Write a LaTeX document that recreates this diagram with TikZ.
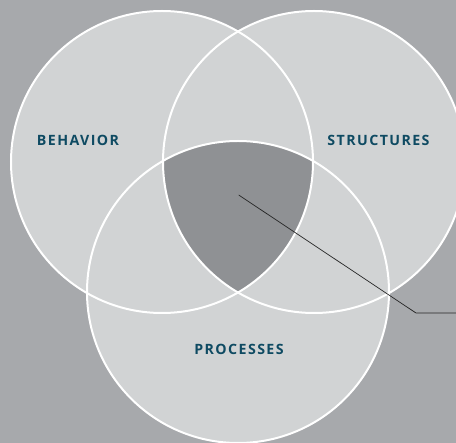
\documentclass[tikz,border=0pt]{standalone}
\usepackage{fontspec}
\setmainfont{Open Sans}
\newfontfamily\labelfont[LetterSpace=10]{Open Sans}
\usepackage{tikz}
\usetikzlibrary{positioning}
\definecolor{backgray}{RGB}{167,169,172}
\definecolor{setgray}{RGB}{209,211,212}
\definecolor{coregray}{RGB}{143,145,148}
\definecolor{labelblue}{RGB}{14,74,98}
\tikzset{
    x=1pt, y=-1pt, % pixel-like units, y going down
    set/.style={fill=setgray}, % fill of each circle
    rim/.style={draw=white, line width=2pt}, % white outline of each circle
    setlabel/.style={text=labelblue, font=\labelfont\bfseries\fontsize{14.2}{16}\selectfont, inner sep=0pt}, % circle names
    pointer/.style={draw=black!85, line width=0.7pt}, % the leader line
}
\begin{document}
\begin{tikzpicture}
            \useasboundingbox (0,0) rectangle (456,443);
            \clip (0,0) rectangle (456,443);
            \fill[backgray] (0,0) rectangle (456,443);

            \coordinate (beh) at (162,162);
            \coordinate (str) at (314,162);
            \coordinate (pro) at (238,292);

            \fill[set] (beh) circle[radius=151pt];
            \fill[set] (str) circle[radius=151pt];
            \fill[set] (pro) circle[radius=151pt];

            % common part of all three
            \begin{scope}
                \clip (beh) circle[radius=151pt];
                \clip (str) circle[radius=151pt];
                \fill[coregray] (pro) circle[radius=151pt];
            \end{scope}

            \draw[rim] (beh) circle[radius=151pt];
            \draw[rim] (str) circle[radius=151pt];
            \draw[rim] (pro) circle[radius=151pt];

            \node[setlabel] (lbeh) at (78,140.5) {BEHAVIOR};
            \node[setlabel] (lstr) at (378.5,140.5) {STRUCTURES};
            \node[setlabel] (lpro) at (239,349.3) {PROCESSES};

            \coordinate (core) at (238.7,195);
            \coordinate (bend) at (416,313);
            \coordinate (edge) at (456,313);
            \draw[pointer] (core) -- (bend) -- (edge);
        \end{tikzpicture}
\end{document}
